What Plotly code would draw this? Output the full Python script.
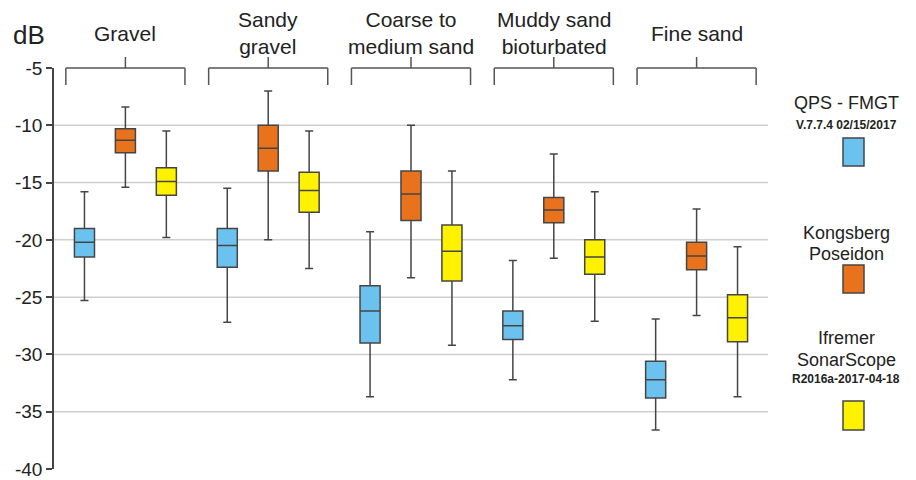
import plotly.graph_objects as go

categories = ["Gravel", "Sandy gravel", "Coarse to medium sand", "Muddy sand bioturbated", "Fine sand"]
category_labels = ["Gravel", "Sandy<br>gravel", "Coarse to<br>medium sand", "Muddy sand<br>bioturbated", "Fine sand"]

# QPS - FMGT
qps_upper = [-15.8, -15.5, -19.3, -21.8, -26.9]
qps_q3 = [-19.0, -19.0, -24.0, -26.2, -30.6]
qps_median = [-20.2, -20.5, -26.2, -27.5, -32.2]
qps_q1 = [-21.5, -22.4, -29.0, -28.7, -33.8]
qps_lower = [-25.3, -27.2, -33.7, -32.2, -36.6]

# Kongsberg Poseidon
kon_upper = [-8.4, -7.0, -10.0, -12.5, -17.3]
kon_q3 = [-10.3, -10.0, -14.0, -16.3, -20.2]
kon_median = [-11.3, -12.0, -16.0, -17.4, -21.4]
kon_q1 = [-12.4, -14.0, -18.3, -18.5, -22.6]
kon_lower = [-15.4, -20.0, -23.3, -21.6, -26.6]

# Ifremer SonarScope
ifr_upper = [-10.5, -10.5, -14.0, -15.8, -20.6]
ifr_q3 = [-13.7, -14.1, -18.7, -20.0, -24.8]
ifr_median = [-14.9, -15.7, -21.0, -21.5, -26.8]
ifr_q1 = [-16.1, -17.6, -23.6, -23.0, -28.9]
ifr_lower = [-19.8, -22.5, -29.2, -27.1, -33.7]

y_ticks = [-40, -35, -30, -25, -20, -15, -10, -5]
grid_vals = [-35, -30, -25, -20, -15, -10]

series = [
    ("QPS - FMGT", "#6cc2ef", qps_lower, qps_q1, qps_median, qps_q3, qps_upper),
    ("Kongsberg Poseidon", "#e8731c", kon_lower, kon_q1, kon_median, kon_q3, kon_upper),
    ("Ifremer SonarScope", "#fff200", ifr_lower, ifr_q1, ifr_median, ifr_q3, ifr_upper),
]

FONT = "Liberation Sans, Arial, sans-serif"
W, H = 916, 480
ML, MR, MT, MB = 54, 148, 68, 11
PW, PH = W - ML - MR, H - MT - MB


def px(x):
    return (x - ML) / PW


def py(y):
    return (H - MB - y) / PH


fig = go.Figure()
for name, color, lo, q1, med, q3, hi in series:
    fig.add_trace(go.Box(
        name=name, x=categories, lowerfence=lo, q1=q1, median=med, q3=q3, upperfence=hi,
        fillcolor=color, line=dict(color="#454545", width=1.5), whiskerwidth=0.4,
        boxpoints=False, showlegend=False, hoverinfo="skip",
    ))

shapes = []
for g in grid_vals:
    shapes.append(dict(type="line", xref="paper", yref="y", x0=0, x1=1, y0=g, y1=g,
                       line=dict(color="#cfcfcf", width=1.5), layer="below"))

bc = "#555555"
for i, _ in enumerate(categories):
    x0, x1 = i - 0.417, i + 0.417
    shapes.append(dict(type="line", xref="x", yref="paper", x0=x0, x1=x1, y0=1, y1=1, line=dict(color=bc, width=1.5)))
    shapes.append(dict(type="line", xref="x", yref="paper", x0=x0, x1=x0, y0=1, y1=py(85), line=dict(color=bc, width=1.5)))
    shapes.append(dict(type="line", xref="x", yref="paper", x0=x1, x1=x1, y0=1, y1=py(85), line=dict(color=bc, width=1.5)))
    shapes.append(dict(type="line", xref="x", yref="paper", x0=i, x1=i, y0=1, y1=py(57), line=dict(color=bc, width=1.5)))

annotations = []
for i, lab in enumerate(category_labels):
    annotations.append(dict(x=i, xref="x", y=py(33), yref="paper", text=lab, showarrow=False,
                            xanchor="center", yanchor="middle",
                            font=dict(family=FONT, size=21, color="#222")))
annotations.append(dict(x=px(29), xref="paper", y=py(35), yref="paper", text="dB", showarrow=False,
                        xanchor="center", yanchor="middle",
                        font=dict(family=FONT, size=26, color="#222")))

legend_items = [
    (["QPS - FMGT"], "V.7.7.4 02/15/2017", [103], 125, (138, 166)),
    (["Kongsberg", "Poseidon"], None, [233, 254], None, (265, 293)),
    (["Ifremer", "SonarScope"], "R2016a-2017-04-18", [338, 360], 379, (401, 430)),
]
lx = 846
for (lines, sub, ys, suby, (sq0, sq1)), (_, color, *_r) in zip(legend_items, series):
    for t, yy in zip(lines, ys):
        annotations.append(dict(x=px(lx), xref="paper", y=py(yy), yref="paper", text=t, showarrow=False,
                                xanchor="center", yanchor="middle",
                                font=dict(family=FONT, size=18, color="#222")))
    if sub:
        annotations.append(dict(x=px(lx), xref="paper", y=py(suby), yref="paper", text="<b>" + sub + "</b>",
                                showarrow=False, xanchor="center", yanchor="middle",
                                font=dict(family=FONT, size=12, color="#222")))
    shapes.append(dict(type="rect", xref="paper", yref="paper", x0=px(843), x1=px(864), y0=py(sq1), y1=py(sq0),
                       fillcolor=color, line=dict(color="#454545", width=1.5)))

fig.update_layout(
    width=W, height=H, margin=dict(l=ML, r=MR, t=MT, b=MB, autoexpand=False),
    paper_bgcolor="white", plot_bgcolor="white",
    boxmode="group", boxgap=0.14, boxgroupgap=0.51,
    shapes=shapes, annotations=annotations,
    xaxis=dict(type="category", range=[-0.5, 4.5], showticklabels=False, showgrid=False,
               zeroline=False, showline=False, ticks="", automargin=False),
    yaxis=dict(range=[-40, -5], tickvals=y_ticks, ticktext=[str(v) for v in y_ticks],
               showgrid=False, zeroline=False, showline=True, linecolor="#444", linewidth=1.5,
               ticks="outside", ticklen=6, tickcolor="#444", tickwidth=1.5,
               ticklabeloverflow="allow", automargin=False,
               tickfont=dict(family=FONT, size=19, color="#222")),
)

fig.write_html("out.html", config={"displayModeBar": False},
               post_script="document.body.style.margin='0';document.body.style.overflow='hidden';")
